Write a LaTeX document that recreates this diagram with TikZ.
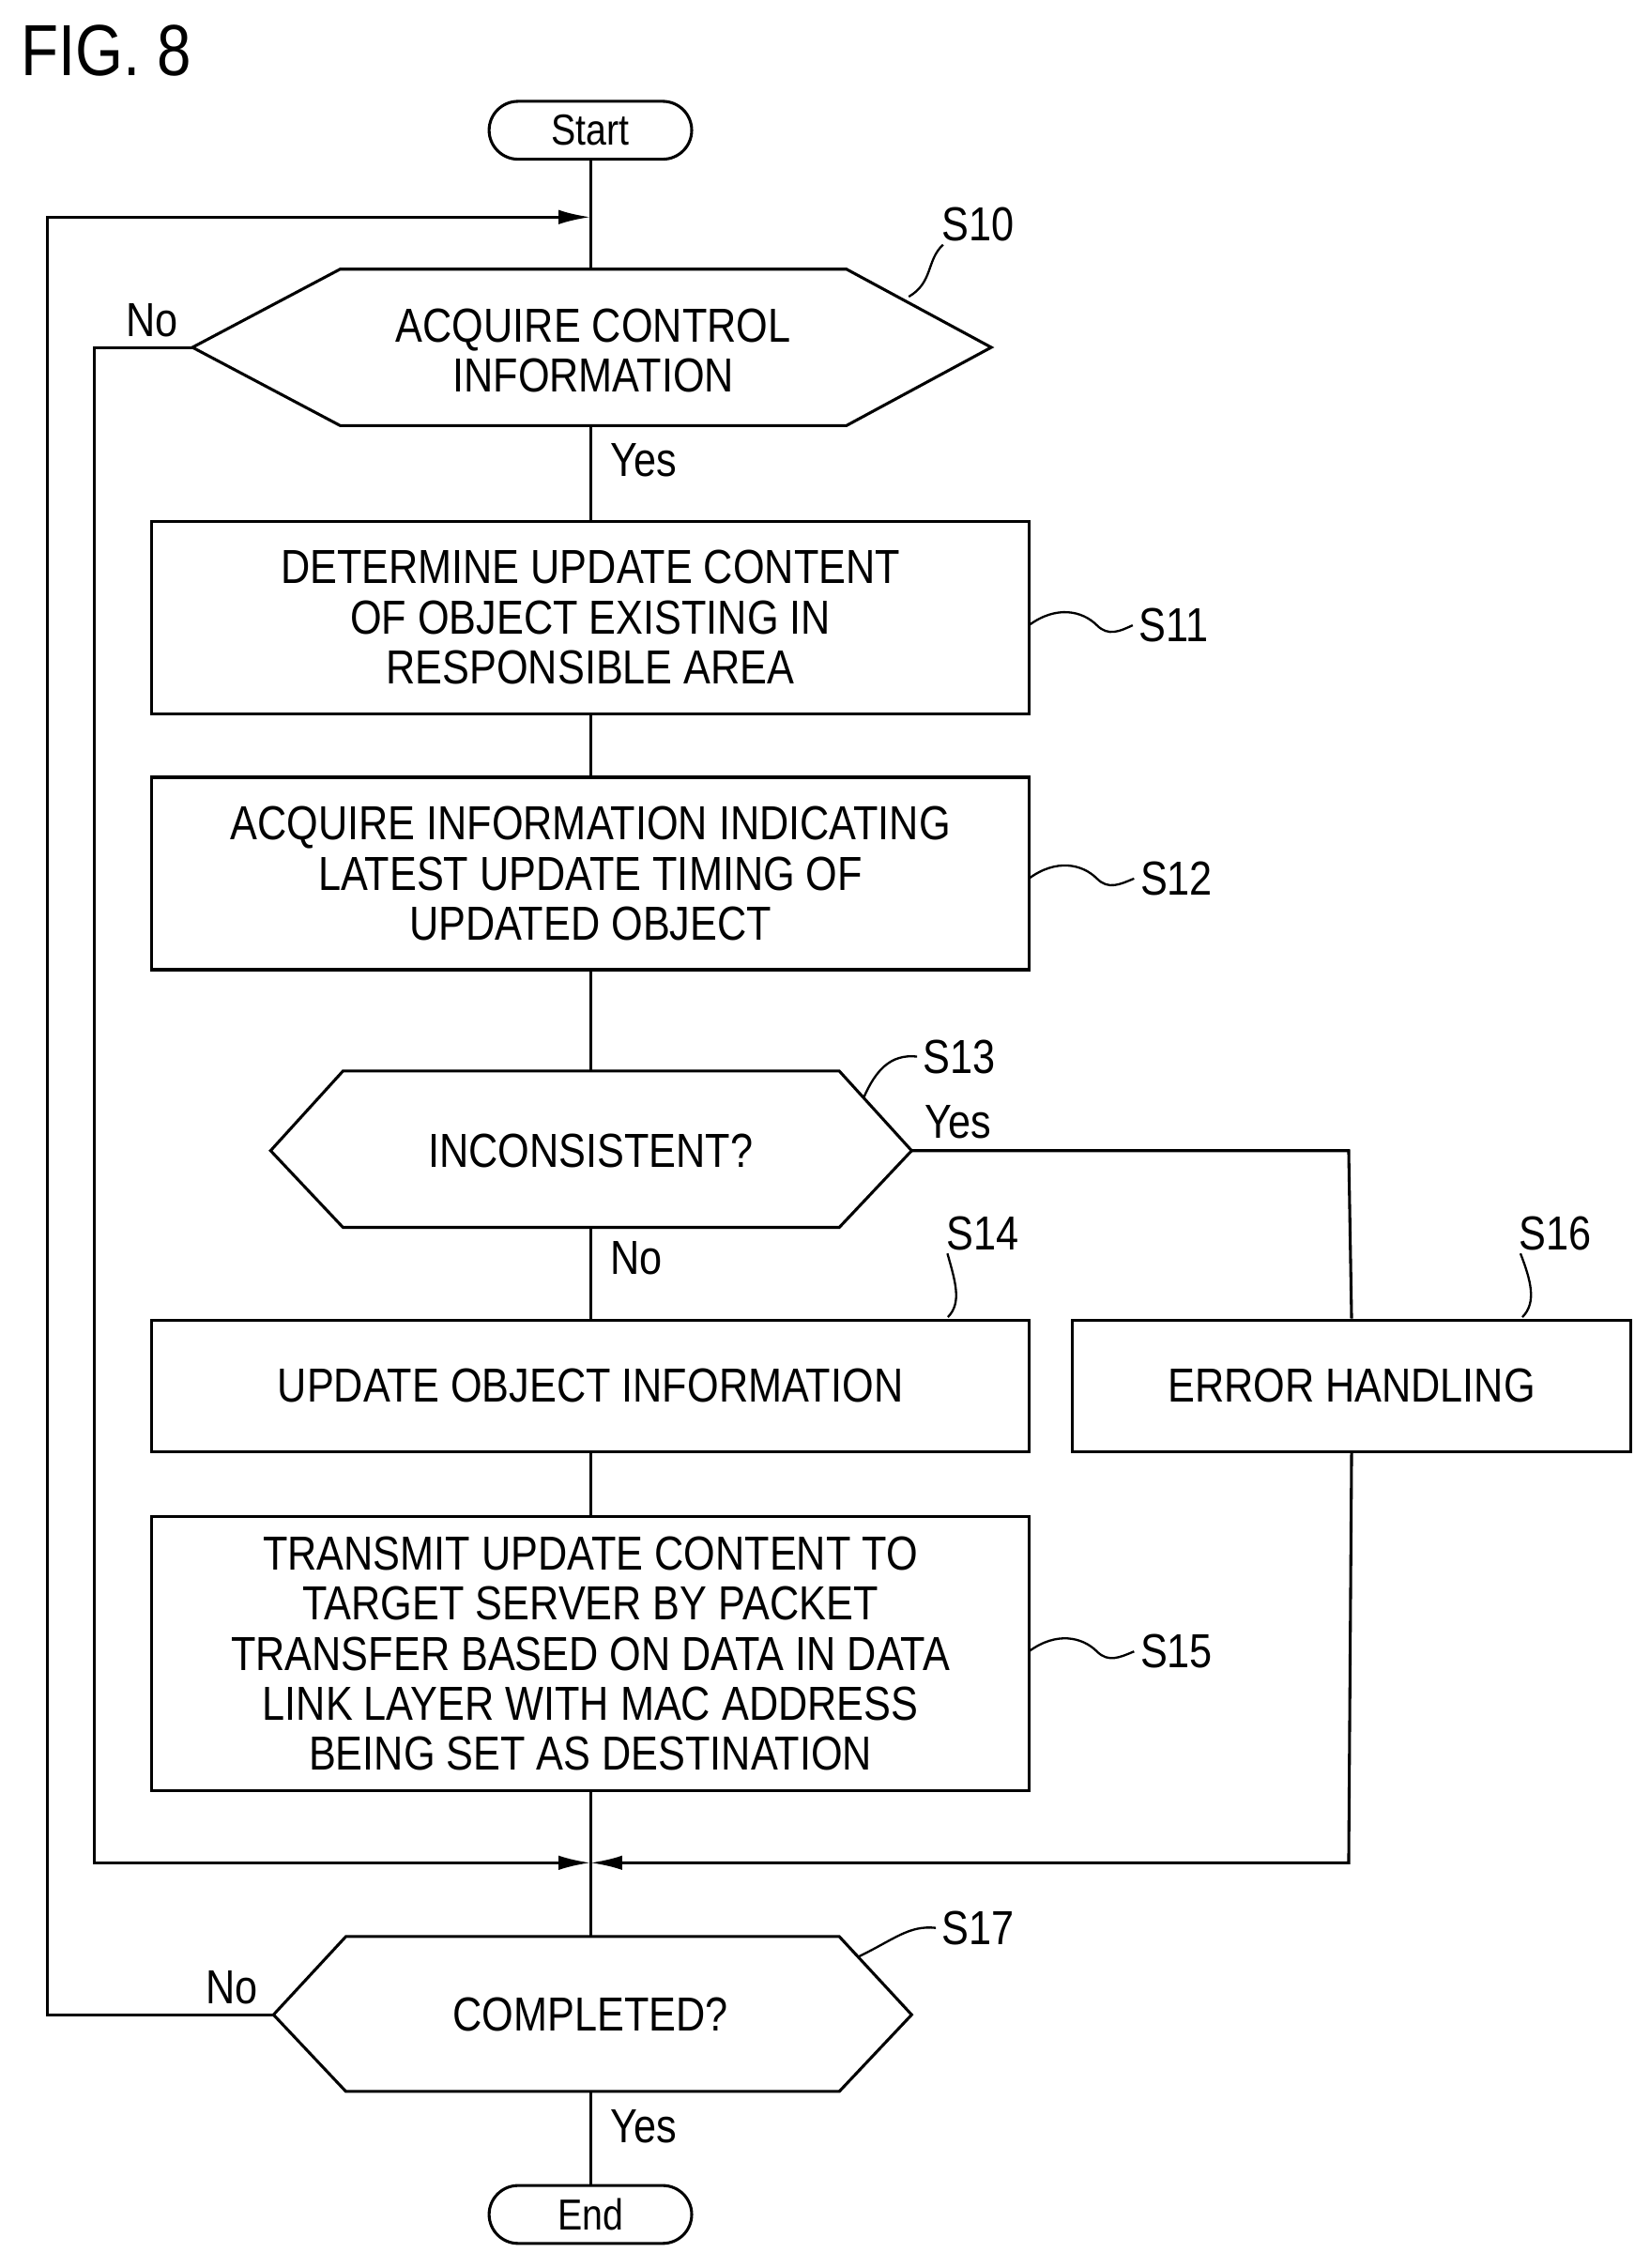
\documentclass[tikz,border=0pt]{standalone}
\usepackage{fontspec}
\setmainfont{Liberation Sans}[FakeStretch=0.85]
\usetikzlibrary{arrows.meta}
\begin{document}
\begin{tikzpicture}[x=1pt,y=-1pt,line width=2pt,
 box/.style={draw,minimum width=606pt,align=center,font=\fontsize{33}{34.5}\selectfont,inner sep=0pt},
 txt/.style={align=center,font=\fontsize{33}{34.5}\selectfont},
 lab/.style={font=\fontsize{33}{35}\selectfont},
 term/.style={draw,rounded corners=20pt,minimum width=140pt,minimum height=40pt,inner sep=0pt,font=\fontsize{30}{32}\selectfont},
 arr/.style={-{Latex[length=22pt,width=10pt]}}]
\useasboundingbox (0,0) rectangle (1140,1567);
\node[anchor=west,font=\fontsize{50}{52}\selectfont] (fig) at (10,35) {FIG. 8};
\node[term] (start) at (408,90) {Start};
% S10
\node[txt] (s10) at (410,242) {ACQUIRE CONTROL\\INFORMATION};
\coordinate (s10l) at (133,240); \coordinate (s10r) at (685,240);
\coordinate (s10t) at (408,186); \coordinate (s10b) at (408,294);
\draw (133,240)--(235,186)--(585,186)--(685,240)--(585,294)--(235,294)--cycle;
% S11
\node[box,minimum height=133pt] (s11) at (408,426.5) {DETERMINE UPDATE CONTENT\\OF OBJECT EXISTING IN\\RESPONSIBLE AREA};
\node[box,minimum height=133pt] (s12) at (408,603.5) {ACQUIRE INFORMATION INDICATING\\LATEST UPDATE TIMING OF\\UPDATED OBJECT};
% S13
\node[txt] (s13) at (408,795) {INCONSISTENT?};
\coordinate (s13t) at (408,740); \coordinate (s13b) at (408,848); \coordinate (s13r) at (630,795);
\draw (187,795)--(237,740)--(580,740)--(630,795)--(580,848)--(237,848)--cycle;
\node[box,minimum height=91pt] (s14) at (408,957.5) {UPDATE OBJECT INFORMATION};
\node[box,minimum width=386pt,minimum height=91pt] (s16) at (934,957.5) {ERROR HANDLING};
\node[box,minimum height=189pt] (s15) at (408,1142.5) {TRANSMIT UPDATE CONTENT TO\\TARGET SERVER BY PACKET\\TRANSFER BASED ON DATA IN DATA\\LINK LAYER WITH MAC ADDRESS\\BEING SET AS DESTINATION};
% S17
\node[txt] (s17) at (408,1392) {COMPLETED?};
\coordinate (s17t) at (408,1338); \coordinate (s17b) at (408,1445); \coordinate (s17l) at (189,1392);
\draw (189,1392)--(239,1338)--(580,1338)--(630,1392)--(580,1445)--(239,1445)--cycle;
\node[term] (end) at (408,1530) {End};
\coordinate (j1) at (408,150); \coordinate (j2) at (408,1287);
% connectors
\draw (start)--(j1); \draw (j1)--(s10t);
\draw (s10b)--(s11); \draw (s11)--(s12); \draw (s12)--(s13t);
\draw (s13b)--(s14); \draw (s14)--(s15); \draw (s15)--(j2)--(s17t);
\draw (s17b)--(end);
\draw[arr] (s10l)--(65,240)--(65,1287)--(j2);
\draw[arr] (s16.south)--(932,1287)--(j2);
\draw (s13r)--(932,795)--(s16.north);
\draw[arr] (s17l)--(33,1392)--(33,150)--(j1);
% labels
\node[lab] (no1) at (105,221) {No};
\node[lab] (y1) at (445,318) {Yes};
\node[lab] (y2) at (662,775) {Yes};
\node[lab] (no2) at (440,869) {No};
\node[lab] (no3) at (160,1373) {No};
\node[lab] (y3) at (445,1469) {Yes};
\node[lab] (l10) at (676,155) {S10};
\node[lab] (l11) at (811,432) {S11};
\node[lab] (l12) at (813,607) {S12};
\node[lab] (l13) at (663,730) {S13};
\node[lab] (l14) at (679,852) {S14};
\node[lab] (l16) at (1075,852) {S16};
\node[lab] (l15) at (813,1141) {S15};
\node[lab] (l17) at (676,1332) {S17};
\draw[line width=1.5pt] (l10.south west) ++(5,-2) .. controls (640,180) and (645,195) .. (628,205);
\draw[line width=1.5pt] (l13.west) .. controls (615,728) and (605,740) .. (597,758);
\draw[line width=1.5pt] (l14.south west) ++(5,-2) .. controls (660,885) and (665,900) .. (655,910);
\draw[line width=1.5pt] (l16.south west) ++(5,-2) .. controls (1058,885) and (1062,900) .. (1052,910);
\draw[line width=1.5pt] (l17.west) .. controls (628,1330) and (618,1340) .. (593,1352);
\foreach \n/\y in {l11/432,l12/607,l15/1141}{
 \draw[line width=1.5pt] (711,\y) .. controls (730,\y-14) and (748,\y-10) .. (758,\y) .. controls (766,\y+8) and (774,\y+4) .. (\n.west);}
\end{tikzpicture}
\end{document}
